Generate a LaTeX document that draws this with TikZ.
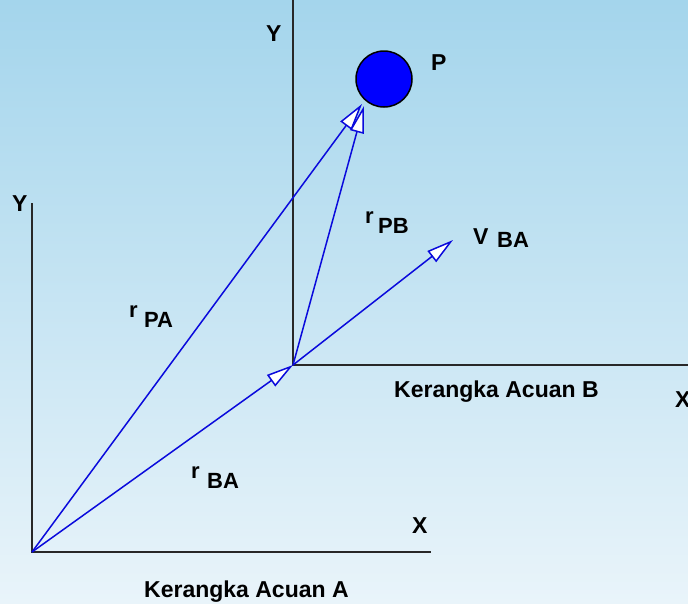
\documentclass[tikz,border=0pt]{standalone}
\usepackage{fontspec}
\setmainfont{Liberation Sans}
\usetikzlibrary{arrows.meta}
\definecolor{bgtop}{RGB}{164,213,236}
\definecolor{bgbot}{RGB}{233,244,250}
\definecolor{vec}{RGB}{10,10,220}
\definecolor{axiscol}{RGB}{40,40,40}
\begin{document}
\begin{tikzpicture}[x=1pt,y=-1pt,
  lbl/.style={font=\fontsize{22}{26}\selectfont\bfseries, inner sep=0pt, anchor=base west},
  biglbl/.style={font=\fontsize{23}{27}\selectfont\bfseries, inner sep=0pt, anchor=base west},
  axisline/.style={draw=axiscol, line width=2pt},
  vecline/.style={draw=vec, line width=1.5pt, -{Triangle[length=27pt,width=14pt,fill=white]}}
]
\shade[top color=bgtop,bottom color=bgbot] (0,0) rectangle (688,603);
\useasboundingbox (0,0) rectangle (688,603);

% frame A
\coordinate (OA) at (32,552);
\coordinate (YA) at (32,203);
\coordinate (XA) at (431,552);
% frame B
\coordinate (OB) at (293,365);
\coordinate (YB) at (293,0);
\coordinate (XB) at (688,365);
% tips
\coordinate (tipPA) at (362,104);
\coordinate (tipPB) at (364,106);
\coordinate (tipV) at (453,240);

\draw[axisline] (YA) -- (OA) -- (XA);
\draw[axisline] (YB) -- (OB) -- (XB);

\node[circle, fill=blue, draw=black, line width=1.5pt, minimum size=56pt, inner sep=0pt] (P) at (384,79) {};

\draw[vecline] (OA) -- (OB);
\draw[vecline] (OA) -- (tipPA);
\draw[vecline] (OB) -- (tipPB);
\draw[vecline] (OB) -- (tipV);

% labels
\node[biglbl] (lYB) at (266,41) {Y};
\node[biglbl] (lP) at (431,70) {P};
\node[biglbl] (lYA) at (12,211) {Y};
\node[biglbl] (lXA) at (412,533) {X};
\node[biglbl] (lXB) at (675,407) {X};
\node[biglbl] (kA) at (144,597) {Kerangka Acuan A};
\node[biglbl] (kB) at (394,397) {Kerangka Acuan B};

\node[lbl] (rPAr) at (129,317) {r};
\node[lbl] (rPAs) at (144,327) {PA};
\node[lbl] (rPBr) at (365,223) {r};
\node[lbl] (rPBs) at (378,233) {PB};
\node[lbl] (rBAr) at (191,478) {r};
\node[lbl] (rBAs) at (207,488) {BA};
\node[biglbl] (vBAv) at (473,244) {V};
\node[lbl] (vBAs) at (497,247) {BA};
\end{tikzpicture}
\end{document}
